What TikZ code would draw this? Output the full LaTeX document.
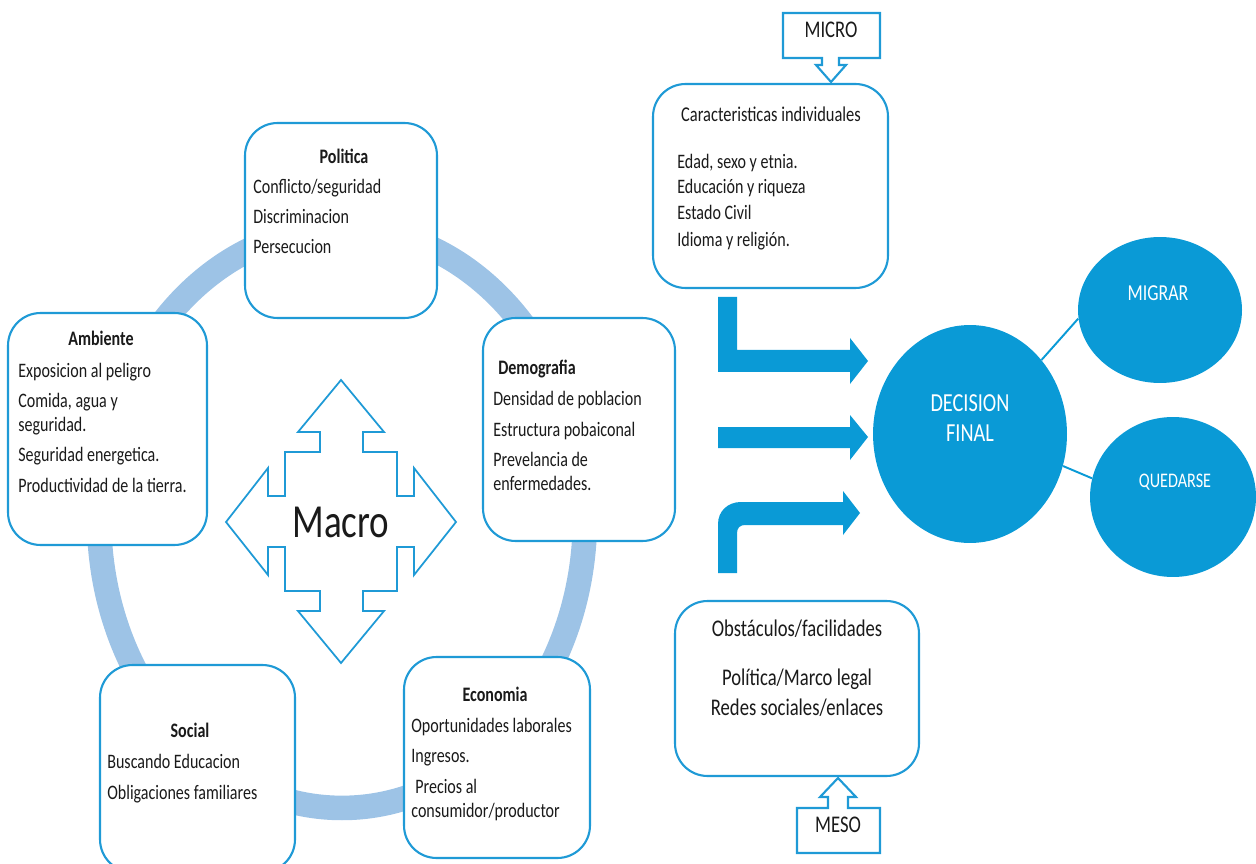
\documentclass[tikz,border=0pt]{standalone}
\usepackage{fontspec}
\setmainfont{Carlito}[FakeStretch=0.78]
\usetikzlibrary{shapes.geometric}
\definecolor{ringblue}{HTML}{9DC3E6}
\definecolor{edgeblue}{HTML}{1F9AD6}
\definecolor{fillblue}{HTML}{0A9AD6}
\definecolor{txt}{HTML}{1A1A1A}
\begin{document}
\begin{tikzpicture}[x=0.02cm,y=-0.02cm,
  box/.style={draw=edgeblue, line width=1.2pt, fill=white, rounded corners=0.65cm, inner sep=0pt},
  body/.style={inner sep=0pt, anchor=mid west, font=\fontsize{11.7}{14}\selectfont, text=txt},
  bodyc/.style={inner sep=0pt, anchor=mid, font=\fontsize{11.7}{14}\selectfont, text=txt},
  bigc/.style={inner sep=0pt, anchor=mid, font=\fontsize{13.6}{16}\selectfont, text=txt},
  head/.style={inner sep=0pt, anchor=mid, font=\fontsize{11.7}{14}\selectfont\bfseries, text=txt},
  bubble/.style={ellipse, fill=fillblue, draw=none, inner sep=0pt},
  btxt/.style={text=white, inner sep=0pt, anchor=mid},
  callout/.style={draw=edgeblue, line width=1.2pt, fill=white},
  blockarrow/.style={fill=fillblue, draw=none},
  link/.style={draw=fillblue, line width=1.1pt}
]
\useasboundingbox (0,0) rectangle (1256,864);
\clip (0,0) rectangle (1256,864);

% ring
\draw[ringblue, line width=14pt] (342,518) ellipse [x radius=4.86cm, y radius=5.8cm];

% macro boxes
\node[box, minimum width=3.84cm, minimum height=3.9cm] (pol) at (341,220.5) {};
\node[box, minimum width=3.98cm, minimum height=4.64cm] (amb) at (107.5,429) {};
\node[box, minimum width=3.84cm, minimum height=4.46cm] (dem) at (579,429.5) {};
\node[box, minimum width=3.9cm, minimum height=4.14cm] (soc) at (197.5,768.5) {};
\node[box, minimum width=3.72cm, minimum height=4.02cm] (eco) at (497,757.5) {};

% Politica
\node[head] (polh) at (344,159) {Politica};
\node[body] (pol1) at (253,189) {Conflicto/seguridad};
\node[body] (pol2) at (253,219) {Discriminacion};
\node[body] (pol3) at (253,249) {Persecucion};

% Ambiente
\node[head] (ambh) at (101,341) {Ambiente};
\node[body] (amb1) at (18,373) {Exposicion al peligro};
\node[body] (amb2) at (18,403) {Comida, agua y};
\node[body] (amb3) at (18,427) {seguridad.};
\node[body] (amb4) at (18,457) {Seguridad energetica.};
\node[body] (amb5) at (18,488) {Productividad de la tierra.};

% Demografia
\node[head] (demh) at (537,370) {Demografia};
\node[body] (dem1) at (493,401) {Densidad de poblacion};
\node[body] (dem2) at (493,432) {Estructura pobaiconal};
\node[body] (dem3) at (493,462) {Prevelancia de};
\node[body] (dem4) at (493,486) {enfermedades.};

% Social
\node[head] (soch) at (190,733) {Social};
\node[body] (soc1) at (107,764) {Buscando Educacion};
\node[body] (soc2) at (107,795) {Obligaciones familiares};

% Economia
\node[head] (ecoh) at (495,697) {Economia};
\node[body] (eco1) at (411,728) {Oportunidades laborales};
\node[body] (eco2) at (411,758) {Ingresos.};
\node[body] (eco3) at (415,789) {Precios al};
\node[body] (eco4) at (411,813) {consumidor/productor};

% Macro cross
\draw[draw=edgeblue, line width=1pt, fill=white]
  (341,380) -- (384,432) -- (363,432) -- (363,452) -- (397,452) -- (397,496)
  -- (414,496) -- (414,468) -- (456,522) -- (414,575) -- (414,547) -- (397,547)
  -- (397,591) -- (363,591) -- (363,611) -- (384,611) -- (341,663)
  -- (298,611) -- (320,611) -- (320,591) -- (285,591) -- (285,547) -- (268,547)
  -- (268,575) -- (226,522) -- (268,468) -- (268,496) -- (285,496) -- (285,452)
  -- (320,452) -- (320,432) -- (298,432) -- cycle;
\node[inner sep=0pt, font=\fontsize{27}{30}\selectfont, text=txt] (macro) at (341,522) {Macro};

% Micro box
\node[box, minimum width=4.7cm, minimum height=4.08cm] (car) at (770.5,186) {};
\node[bodyc, font=\fontsize{12}{14}\selectfont] (carh) at (771,117) {Caracteristicas individuales};
\node[body] (car1) at (677,164) {Edad, sexo y etnia.};
\node[body] (car2) at (677,189) {Educación y riqueza};
\node[body] (car3) at (677,215) {Estado Civil};
\node[body] (car4) at (677,242) {Idioma y religión.};

% MICRO callout
\draw[callout] (783,13) -- (880,13) -- (880,58) -- (839,58) -- (839,65) -- (846,65)
  -- (831,82) -- (816,65) -- (822,65) -- (822,58) -- (783,58) -- cycle;
\node[bigc] (micro) at (831,33) {MICRO};

% Block arrows
\fill[blockarrow] (718,297) -- (737,297) -- (737,350) -- (850,350) -- (850,338)
  -- (868,361) -- (850,384) -- (850,372) -- (718,372) -- cycle;
\fill[blockarrow] (718,427) -- (850,427) -- (850,415) -- (868,437) -- (850,460)
  -- (850,448) -- (718,448) -- cycle;
\fill[blockarrow] (718,573) -- (718,524) .. controls (718,511) and (728,502) .. (741,502)
  -- (843,502) -- (843,491) -- (860,513) -- (843,535) -- (843,525) -- (745,525)
  .. controls (740,525) and (737,528) .. (737,533) -- (737,573) -- cycle;

% Decision circles
\node[bubble, minimum width=3.88cm, minimum height=4.36cm] (dec) at (970,434) {};
\node[bubble, minimum width=3.28cm, minimum height=2.92cm] (mig) at (1160,310) {};
\node[bubble, minimum width=3.32cm, minimum height=3.2cm] (que) at (1173,497) {};
\draw[link] (dec.46) -- (mig.186);
\draw[link] (dec.-19) -- (que.167);
\node[btxt, font=\fontsize{14.8}{17}\selectfont] (dect) at (970,407) {DECISION};
\node[btxt, font=\fontsize{14.8}{17}\selectfont] (fint) at (970,437) {FINAL};
\node[btxt, font=\fontsize{13}{15}\selectfont] (migt) at (1158,296) {MIGRAR};
\node[btxt, font=\fontsize{11.8}{14}\selectfont] (quet) at (1175,483) {QUEDARSE};

% Meso box
\node[box, minimum width=4.88cm, minimum height=3.5cm] (obs) at (797,688.5) {};
\node[bigc] (obsh) at (797,632) {Obstáculos/facilidades};
\node[bigc] (obs1) at (797,681) {Política/Marco legal};
\node[bigc] (obs2) at (797,711) {Redes sociales/enlaces};

% MESO callout
\draw[callout] (797,853) -- (880,853) -- (880,808) -- (848,808) -- (848,797) -- (856,797)
  -- (838,778) -- (820,797) -- (828,797) -- (828,808) -- (797,808) -- cycle;
\node[bigc] (meso) at (838,828) {MESO};
\end{tikzpicture}
\end{document}
